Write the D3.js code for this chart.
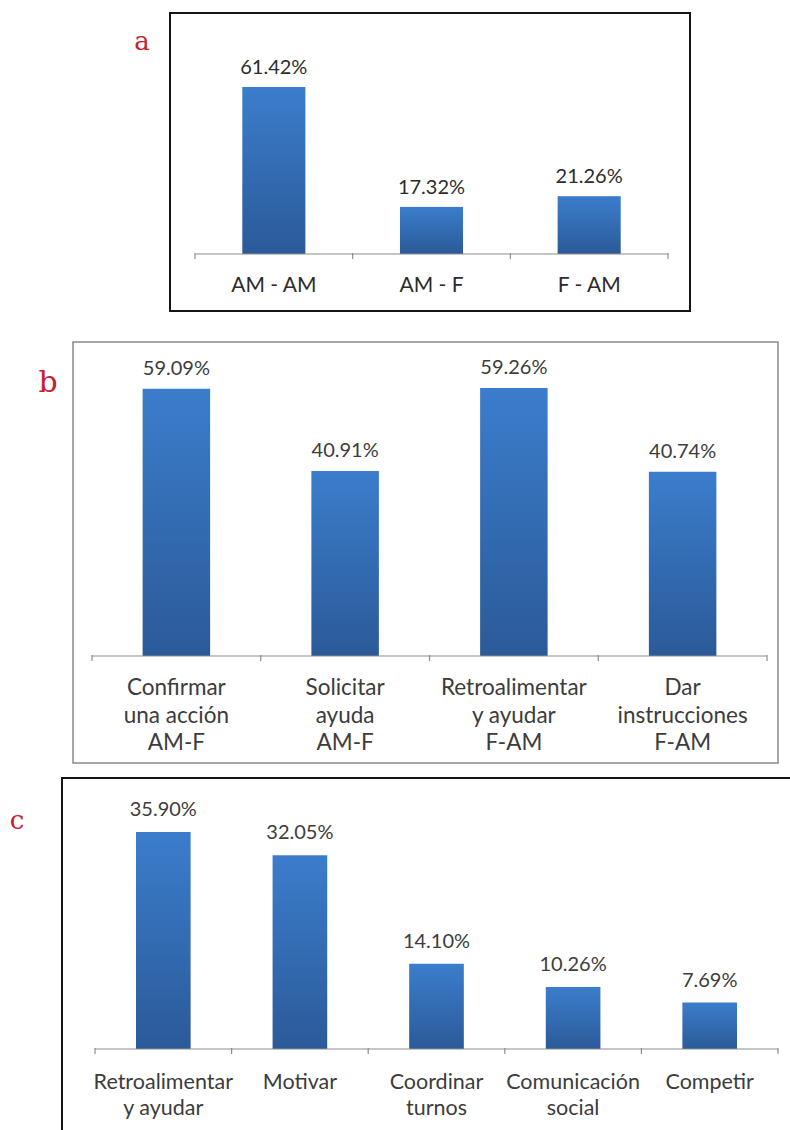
<!DOCTYPE html>
<html>
<head>
<meta charset="utf-8">
<script src="https://cdn.jsdelivr.net/npm/d3@7/dist/d3.min.js"></script>
<style>
  html, body { margin: 0; padding: 0; background: #ffffff; }
  svg { display: block; }
  .val { font-family: Lato, "Open Sans", sans-serif; }
  .cat { font-family: Lato, "Open Sans", sans-serif; }
  .tag { font-family: "DejaVu Serif", "Liberation Serif", serif; fill: #c8202c; }
</style>
</head>
<body>
<svg id="chart" width="790" height="1130"></svg>
<script>
// ---- data -------------------------------------------------------------
const catsA = ["AM - AM", "AM - F", "F - AM"];
const valsA = [61.42, 17.32, 21.26];

const catsB = [
  ["Confirmar", "una acción", "AM-F"],
  ["Solicitar", "ayuda", "AM-F"],
  ["Retroalimentar", "y ayudar", "F-AM"],
  ["Dar", "instrucciones", "F-AM"]
];
const valsB = [59.09, 40.91, 59.26, 40.74];

const catsC = [
  ["Retroalimentar", "y ayudar"],
  ["Motivar"],
  ["Coordinar", "turnos"],
  ["Comunicación", "social"],
  ["Competir"]
];
const valsC = [35.90, 32.05, 14.10, 10.26, 7.69];

const tags = ["a", "b", "c"];

// ---- drawing ----------------------------------------------------------
const svg = d3.select("#chart");
const defs = svg.append("defs");

const grad = defs.append("linearGradient")
  .attr("id", "barFill").attr("x1", 0).attr("y1", 0).attr("x2", 0).attr("y2", 1);
grad.append("stop").attr("offset", "0%").attr("stop-color", "#3b7dcc");
grad.append("stop").attr("offset", "100%").attr("stop-color", "#2b5a98");

const fmt = d => d.toFixed(2) + "%";

function panel(cfg, cats, vals, tag) {
  const g = svg.append("g");

  // frame
  g.append("rect")
    .attr("x", cfg.box[0]).attr("y", cfg.box[1])
    .attr("width", cfg.box[2]).attr("height", cfg.box[3])
    .attr("fill", "#ffffff")
    .attr("stroke", cfg.frameColor).attr("stroke-width", cfg.frameWidth);

  // panel letter
  g.append("text").attr("class", "tag")
    .attr("x", cfg.tagPos[0]).attr("y", cfg.tagPos[1])
    .attr("text-anchor", "middle")
    .style("font-size", cfg.tagSize + "px")
    .text(tag);

  const idx = d3.range(vals.length);
  const x = d3.scaleBand().domain(idx)
    .range([cfg.axis[0], cfg.axis[1]])
    .paddingInner(0.6).paddingOuter(0.3);
  const y = d3.scaleLinear()
    .domain([0, d3.max(vals)])
    .range([cfg.baseline, cfg.topPx]);

  // bars
  g.selectAll("rect.bar").data(idx).join("rect")
    .attr("class", "bar")
    .attr("x", i => x(i))
    .attr("y", i => y(vals[i]))
    .attr("width", x.bandwidth())
    .attr("height", i => y(0) - y(vals[i]))
    .attr("fill", "url(#barFill)");

  // category axis: line with ticks at band boundaries
  const step = x.step();
  const ax = g.append("g").attr("stroke", "#8e8e8e").attr("stroke-width", 1.2);
  ax.append("line")
    .attr("x1", cfg.axis[0]).attr("x2", cfg.axis[1])
    .attr("y1", y(0)).attr("y2", y(0));
  ax.selectAll("line.tick").data(d3.range(vals.length + 1)).join("line")
    .attr("class", "tick")
    .attr("x1", k => cfg.axis[0] + k * step).attr("x2", k => cfg.axis[0] + k * step)
    .attr("y1", y(0) - 1).attr("y2", y(0) + 5);

  // value labels
  g.selectAll("text.val").data(idx).join("text")
    .attr("class", "val")
    .attr("x", i => x(i) + x.bandwidth() / 2)
    .attr("y", i => y(vals[i]) - cfg.valGap)
    .attr("text-anchor", "middle")
    .style("font-size", cfg.valSize + "px")
    .style("fill", cfg.textColor)
    .text(i => fmt(vals[i]));

  // category labels (one or more lines)
  const lab = g.selectAll("text.cat").data(idx).join("text")
    .attr("class", "cat")
    .attr("text-anchor", "middle")
    .style("font-size", cfg.catSize + "px")
    .style("fill", cfg.textColor);
  lab.each(function (i) {
    const lines = Array.isArray(cats[i]) ? cats[i] : [cats[i]];
    d3.select(this).selectAll("tspan").data(lines).join("tspan")
      .attr("x", x(i) + x.bandwidth() / 2)
      .attr("y", (l, k) => y(0) + cfg.catGap + k * cfg.lineStep)
      .text(l => l);
  });
}

panel({
  box: [170, 13, 520, 298], frameColor: "#151515", frameWidth: 2,
  tagPos: [142, 50], tagSize: 26,
  axis: [195, 668], baseline: 254, topPx: 87,
  valGap: 13, valSize: 20, catSize: 21, catGap: 38, lineStep: 27,
  textColor: "#2c2c2c"
}, catsA, valsA, tags[0]);

panel({
  box: [73, 342, 705, 421], frameColor: "#8a8a8a", frameWidth: 1.5,
  tagPos: [48, 392], tagSize: 30,
  axis: [92, 767], baseline: 656, topPx: 388,
  valGap: 14, valSize: 20, catSize: 22.5, catGap: 39, lineStep: 27.5,
  textColor: "#3c3c3c"
}, catsB, valsB, tags[1]);

panel({
  box: [62, 778, 760, 380], frameColor: "#151515", frameWidth: 2,
  tagPos: [17, 829], tagSize: 26,
  axis: [95, 778], baseline: 1049, topPx: 832,
  valGap: 16, valSize: 20, catSize: 21.5, catGap: 40, lineStep: 26,
  textColor: "#3c3c3c"
}, catsC, valsC, tags[2]);
</script>
</body>
</html>
